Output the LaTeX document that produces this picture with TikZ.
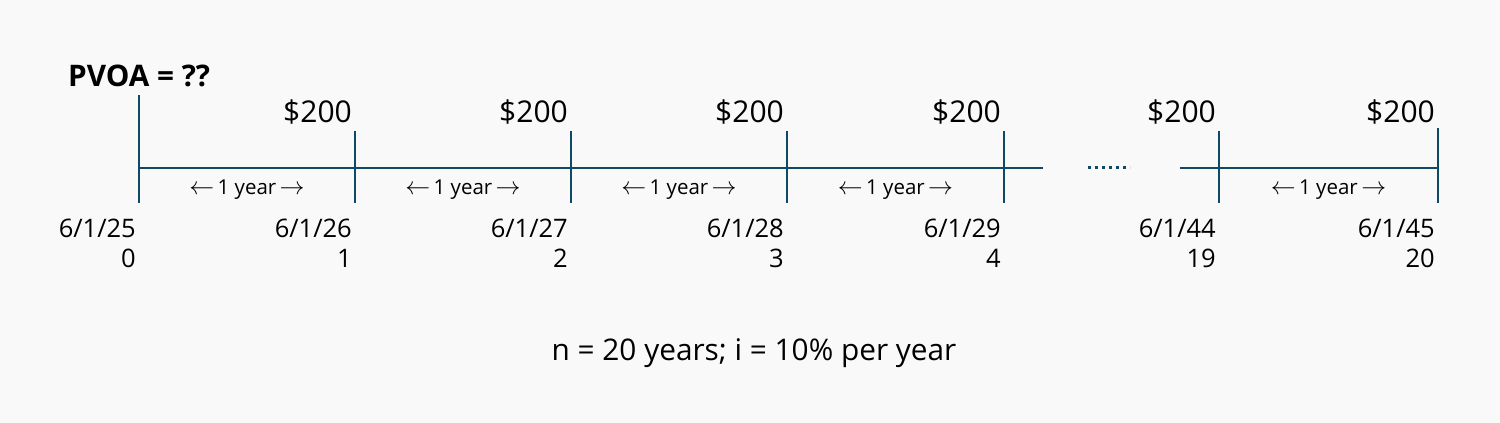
\documentclass[tikz,border=0pt]{standalone}
\usepackage{fontspec}
\setmainfont{Open Sans}
\definecolor{bg}{HTML}{F9F9F9}
\definecolor{axis}{HTML}{0E4A66}
\newcommand{\bigarr}[1]{{\fontsize{26.5}{26}\selectfont$#1$}}
\begin{document}
\begin{tikzpicture}[x=1pt,y=-1pt,
  tickline/.style={draw=axis,line width=2pt},
  axisline/.style={draw=axis,line width=2pt},
  amount/.style={anchor=base east,inner sep=0pt,font=\fontsize{30}{32}\selectfont},
  datelbl/.style={anchor=base east,inner sep=0pt,font=\fontsize{25.5}{28}\selectfont},
  yearlbl/.style={anchor=base,inner sep=0pt,font=\fontsize{20.5}{22}\selectfont},
  title/.style={anchor=base west,inner sep=0pt,font=\fontsize{29.7}{32}\selectfont\bfseries},
  note/.style={anchor=base,inner sep=0pt,font=\fontsize{29.8}{32}\selectfont}]
\fill[bg] (0,0) rectangle (1500,423);
\useasboundingbox (0,0) rectangle (1500,423);
% tick coordinates
\coordinate (t0top) at (139,95);
\coordinate (t0bot) at (139,203);
\foreach \n/\x/\top in {1/355/131,2/571/131,3/787/131,4/1004/131,19/1219/131,20/1438/128}{
  \coordinate (t\n top) at (\x,\top);
  \coordinate (t\n bot) at (\x,203);
  \coordinate (t\n) at (\x,168);
}
\coordinate (t0) at (139,168);
\coordinate (gapL) at (1043,168);
\coordinate (gapR) at (1180,168);
\coordinate (dotsL) at (1088,167);
\coordinate (dotsR) at (1130,167);
% axis
\draw[axisline] (t0) -- (gapL);
\draw[axisline] (gapR) -- (t20);
\draw[draw=axis,line width=3pt,dash pattern=on 3pt off 4pt] (dotsL) -- (dotsR);
% ticks
\foreach \n in {0,1,2,3,4,19,20}{
  \draw[tickline] (t\n top) -- (t\n bot);
}
% title
\node[title] (pvoa) at (68,86) {PVOA = ??};
% amounts, dates and period numbers
\foreach \n/\x in {1/355,2/571,3/787,4/1004,19/1219,20/1438}{
  \node[amount] (amt\n) at (\x-3,122) {\$200};
}
\foreach \n/\x/\d in {0/139/25,1/355/26,2/571/27,3/787/28,4/1004/29,19/1219/44,20/1438/45}{
  \node[datelbl] (date\n) at (\x-3,237) {6/1/\d};
  \node[datelbl] (num\n) at (\x-3,267) {\n};
}
% year spans
\foreach \a/\b/\x in {0/1/247,1/2/463,2/3/679,3/4/895.5,19/20/1328.5}{
  \node[yearlbl] (yr\a) at (\x,194) {\bigarr{\leftarrow}\,1 year\,\bigarr{\rightarrow}};
}
% note
\node[note] (note) at (754,360) {n = 20 years; i = 10\% per year};
\end{tikzpicture}
\end{document}
